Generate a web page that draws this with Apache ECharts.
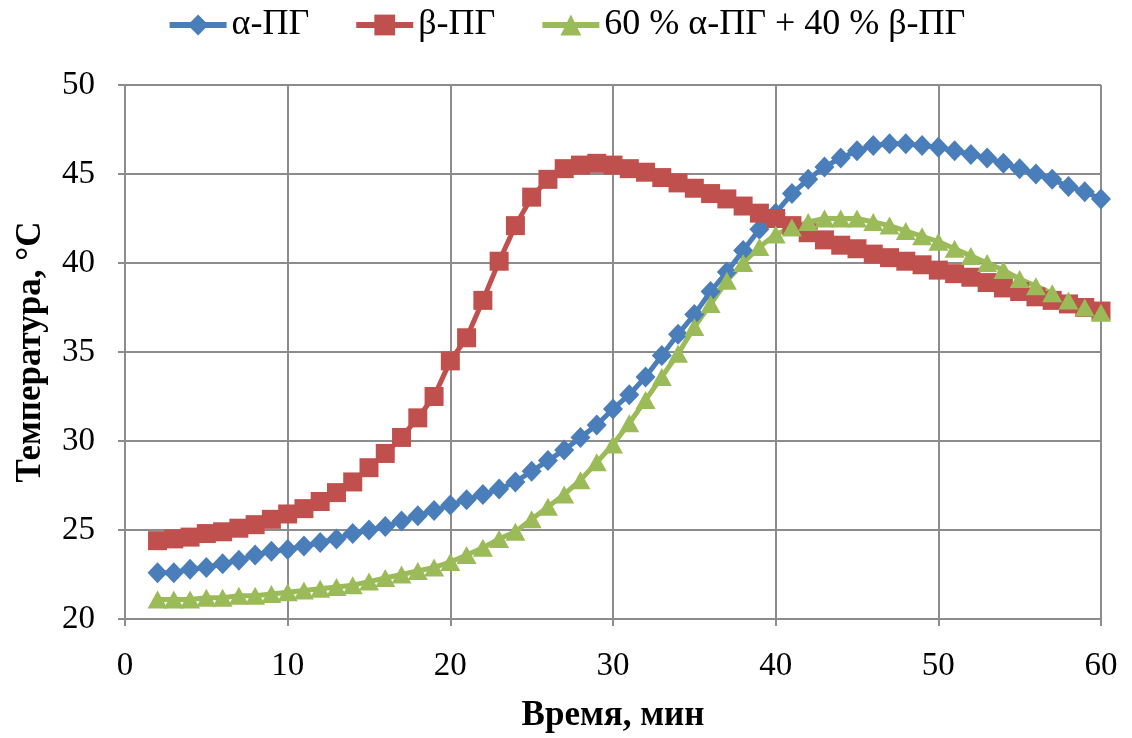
<!DOCTYPE html>
<html>
<head>
<meta charset="utf-8">
<script src="https://cdn.jsdelivr.net/npm/echarts@6/dist/echarts.min.js"></script>
<style>
  html, body { margin: 0; padding: 0; background: #fff; }
  #chart { width: 1132px; height: 738px; }
</style>
</head>
<body>
<div id="chart"></div>
<script>
// Time, minutes
const minutes = [2,3,4,5,6,7,8,9,10,11,12,13,14,15,16,17,18,19,20,21,22,23,24,25,26,27,28,29,30,31,32,33,34,35,36,37,38,39,40,41,42,43,44,45,46,47,48,49,50,51,52,53,54,55,56,57,58,59,60];

// Temperature, °C
const alphaPG = [22.6,22.6,22.8,22.9,23.1,23.3,23.6,23.8,23.9,24.1,24.3,24.5,24.8,25.0,25.2,25.5,25.8,26.1,26.4,26.7,27.0,27.3,27.7,28.3,28.9,29.5,30.2,30.9,31.8,32.6,33.6,34.8,36.0,37.1,38.4,39.5,40.7,41.9,42.8,43.9,44.7,45.4,45.9,46.3,46.6,46.7,46.7,46.6,46.5,46.3,46.1,45.9,45.6,45.3,45.0,44.7,44.3,44.0,43.6];
const betaPG = [24.4,24.5,24.6,24.8,24.9,25.1,25.3,25.6,25.9,26.2,26.6,27.1,27.7,28.5,29.3,30.2,31.3,32.5,34.5,35.8,37.9,40.1,42.1,43.7,44.7,45.3,45.5,45.6,45.5,45.3,45.1,44.8,44.5,44.2,43.9,43.6,43.2,42.8,42.5,42.1,41.7,41.3,41.0,40.8,40.5,40.3,40.1,39.9,39.6,39.4,39.2,38.9,38.6,38.4,38.1,37.9,37.7,37.5,37.3];
const mixPG = [21.1,21.1,21.1,21.2,21.2,21.3,21.3,21.4,21.5,21.6,21.7,21.8,21.9,22.1,22.3,22.5,22.7,22.9,23.2,23.6,24.0,24.5,24.9,25.6,26.3,27.0,27.8,28.8,29.8,31.0,32.3,33.6,34.9,36.4,37.7,39.0,40.0,40.9,41.6,42.0,42.3,42.5,42.5,42.5,42.3,42.1,41.8,41.5,41.2,40.8,40.4,40.0,39.6,39.1,38.7,38.3,37.9,37.5,37.2];

const seriesNames = ['α-ПГ', 'β-ПГ', '60 % α-ПГ + 40 % β-ПГ'];
const seriesColors = ['#4A7EBB', '#C0504D', '#9BBB59'];

const font = '"Liberation Serif", "Times New Roman", serif';
const gridColor = '#8C8C8C';

function pairs(values) {
  return minutes.map((m, i) => [m, values[i]]);
}

function lineSeries(idx, values, symbol, size) {
  return {
    name: seriesNames[idx],
    type: 'line',
    data: pairs(values),
    symbol: symbol,
    symbolSize: size,
    showAllSymbol: true,
    lineStyle: { color: seriesColors[idx], width: 5 },
    itemStyle: { color: seriesColors[idx] },
    emphasis: { disabled: true },
    animation: false
  };
}

const chart = echarts.init(document.getElementById('chart'), null, { renderer: 'canvas' });
chart.setOption({
  backgroundColor: '#ffffff',
  animation: false,
  legend: {
    top: 2,
    left: 'center',
    itemWidth: 57,
    itemHeight: 26,
    itemGap: 44,
    lineStyle: { width: 6 },
    textStyle: { fontFamily: font, fontSize: 36, color: '#000' },
    data: seriesNames
  },
  grid: { left: 125, right: 31, top: 85, bottom: 113, containLabel: false },
  xAxis: {
    type: 'value',
    min: 0, max: 60, interval: 10,
    name: 'Время, мин',
    nameLocation: 'middle',
    nameGap: 79,
    nameTextStyle: { fontFamily: font, fontSize: 35, fontWeight: 'bold', color: '#000' },
    axisLine: { lineStyle: { color: gridColor, width: 2 } },
    axisTick: { show: true, length: 7, lineStyle: { color: gridColor, width: 2 } },
    axisLabel: { fontFamily: font, fontSize: 33, color: '#000', margin: 31 },
    splitLine: { show: true, lineStyle: { color: gridColor, width: 2 } }
  },
  yAxis: {
    type: 'value',
    min: 20, max: 50, interval: 5,
    name: 'Температура, °С',
    nameLocation: 'middle',
    nameGap: 77,
    nameRotate: 90,
    nameTextStyle: { fontFamily: font, fontSize: 35, fontWeight: 'bold', color: '#000' },
    axisLine: { show: true, lineStyle: { color: gridColor, width: 2 } },
    axisTick: { show: true, length: 7, lineStyle: { color: gridColor, width: 2 } },
    axisLabel: { fontFamily: font, fontSize: 33, color: '#000', margin: 30 },
    splitLine: { show: true, lineStyle: { color: gridColor, width: 2 } }
  },
  series: [
    lineSeries(0, alphaPG, 'diamond', [20, 21]),
    lineSeries(1, betaPG, 'rect', 19),
    lineSeries(2, mixPG, 'triangle', [20, 18])
  ]
});
</script>
</body>
</html>
